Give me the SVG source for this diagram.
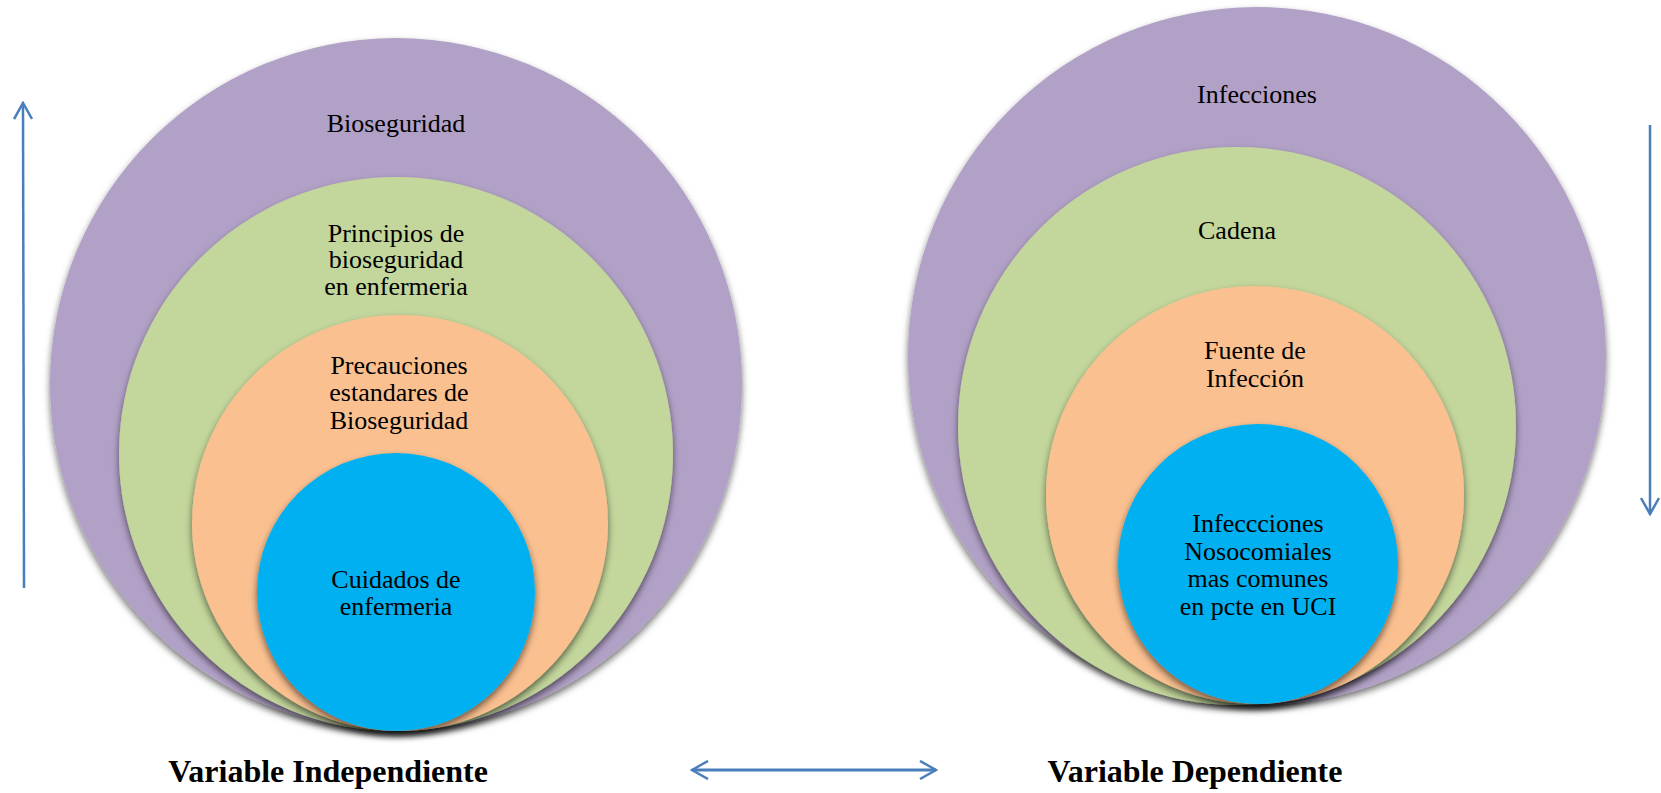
<svg xmlns="http://www.w3.org/2000/svg" width="1661" height="793" viewBox="0 0 1661 793">
<style>
.t{font-family:"Liberation Serif","Times New Roman",serif;font-size:26px;fill:#000;text-anchor:middle}
.b{font-family:"Liberation Serif","Times New Roman",serif;font-size:32px;font-weight:bold;fill:#000;text-anchor:middle}
.p{fill:#B2A1C7}.g{fill:#C3D69B}.o{fill:#FAC090}.c{fill:#00B0F0}
.ar{stroke:#4A7EBB;stroke-width:2.5;fill:none}
</style>
<defs>
<filter id="sh" x="-10%" y="-10%" width="120%" height="125%">
<feDropShadow dx="0" dy="4" stdDeviation="3.5" flood-color="#000" flood-opacity="0.55"/>
</filter>
<marker id="ah" viewBox="0 0 20 20" refX="18" refY="10" markerWidth="20" markerHeight="20" markerUnits="userSpaceOnUse" orient="auto-start-reverse">
<path d="M2 1 L18 10 L2 19" fill="none" stroke="#4A7EBB" stroke-width="2.5"/>
</marker>
</defs>
<g id="left-set">
<g id="n-bioseguridad"><circle class="p" cx="396" cy="384" r="346" filter="url(#sh)"/><text class="t" x="396" y="132">Bioseguridad</text></g>
<g id="n-principios"><circle class="g" cx="396" cy="454" r="277" filter="url(#sh)"/><text class="t" x="396" y="242">Principios de</text><text class="t" x="396" y="268">bioseguridad</text><text class="t" x="396" y="295">en enfermeria</text></g>
<g id="n-precauciones"><circle class="o" cx="400" cy="523" r="208" filter="url(#sh)"/><text class="t" x="399" y="374">Precauciones</text><text class="t" x="399" y="401">estandares de</text><text class="t" x="399" y="429">Bioseguridad</text></g>
<g id="n-cuidados"><circle class="c" cx="396" cy="592" r="139" filter="url(#sh)"/><text class="t" x="396" y="588">Cuidados de</text><text class="t" x="396" y="615">enfermeria</text></g>
</g>
<g id="right-set">
<g id="n-infecciones"><circle class="p" cx="1257" cy="356" r="349" filter="url(#sh)"/><text class="t" x="1257" y="103">Infecciones</text></g>
<g id="n-cadena"><circle class="g" cx="1237" cy="426" r="279" filter="url(#sh)"/><text class="t" x="1237" y="239">Cadena</text></g>
<g id="n-fuente"><circle class="o" cx="1255" cy="495" r="209" filter="url(#sh)"/><text class="t" x="1255" y="359">Fuente de</text><text class="t" x="1255" y="387">Infección</text></g>
<g id="n-nosocomiales"><circle class="c" cx="1258" cy="564" r="140" filter="url(#sh)"/><text class="t" x="1258" y="532">Infeccciones</text><text class="t" x="1258" y="560">Nosocomiales</text><text class="t" x="1258" y="587">mas comunes</text><text class="t" x="1258" y="615">en pcte en UCI</text></g>
</g>
<g id="labels">
<text class="b" x="328" y="782">Variable Independiente</text>
<text class="b" x="1195" y="782">Variable Dependiente</text>
</g>
<g id="connectors">
<line class="ar" x1="24" y1="588" x2="23" y2="103" marker-end="url(#ah)"/>
<line class="ar" x1="1650" y1="125" x2="1650" y2="514" marker-end="url(#ah)"/>
<line class="ar" style="stroke-width:3" x1="692" y1="770" x2="936" y2="770" marker-start="url(#ah)" marker-end="url(#ah)"/>
</g>
</svg>
